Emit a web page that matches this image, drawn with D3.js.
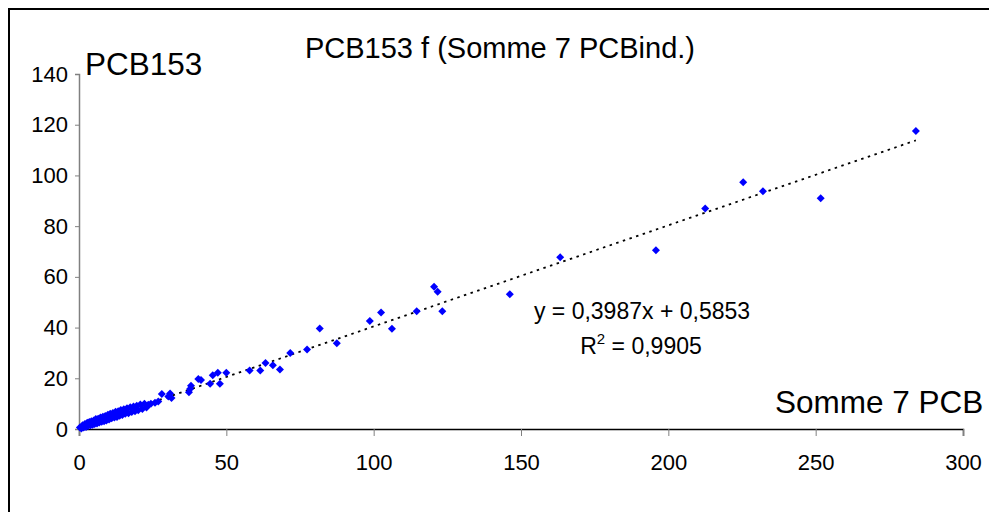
<!DOCTYPE html>
<html>
<head>
<meta charset="utf-8">
<script src="https://cdn.jsdelivr.net/npm/d3@7"></script>
<style>
  body { margin: 0; background: #fff; }
  svg { display: block; font-family: "Liberation Sans", Arial, sans-serif; }
</style>
</head>
<body>
<svg id="chart" width="989" height="512"></svg>
<script>
// Somme 7 PCB (x) vs PCB153 (y)
const sommePCB = [
  0.3, 0.8, 1.2, 1.6, 2.0, 2.4, 2.8, 3.1, 3.5, 3.9, 4.2, 4.6, 5.0, 5.3, 5.7, 6.1, 6.5, 6.9, 7.3, 7.7,
  8.1, 8.5, 8.9, 9.3, 9.8, 10.2, 10.6, 11.1, 11.5, 12.0, 12.4, 12.9, 13.3, 13.8, 14.2, 14.7, 15.2, 15.7,
  16.3, 16.8, 17.4, 17.9, 18.5, 19.0, 19.6, 20.1, 20.8, 21.5, 22.2, 22.9, 23.5,
  24.4, 25.8, 26.9, 28.1, 30.3, 30.9, 31.4, 37.3, 37.7, 38.0, 40.5, 41.4, 44.5, 45.4, 47.1, 47.8, 50.0,
  57.9, 61.5, 63.3, 65.8, 68.2, 71.7, 77.4, 81.7, 87.5, 98.7, 102.5, 106.2, 114.6, 120.5, 121.7, 123.3,
  146.2, 163.3, 195.8, 212.5, 225.4, 232.1, 251.7, 284.0
];
const pcb153 = [
  0.6, 0.2, 1.5, 0.6, 2.0, 0.8, 2.5, 1.2, 2.8, 1.5, 3.1, 1.7, 3.4, 2.0, 3.9, 2.2, 4.0, 2.6, 4.5, 2.9,
  4.8, 3.1, 5.1, 3.4, 5.6, 3.7, 6.0, 4.2, 6.3, 4.5, 6.8, 4.7, 7.0, 5.2, 7.5, 5.5, 7.8, 6.0,
  8.2, 6.2, 8.6, 6.7, 8.9, 7.0, 9.2, 7.4, 9.7, 7.9, 10.0, 8.5, 9.6,
  10.0, 10.4, 10.8, 13.8, 12.8, 14.0, 12.2, 14.5, 15.8, 17.1, 19.7, 19.3, 17.8, 21.2, 22.2, 17.8, 22.2,
  23.1, 23.1, 26.0, 25.1, 23.5, 30.0, 31.4, 39.6, 33.8, 42.6, 45.9, 39.5, 46.4, 56.1, 54.1, 46.4,
  53.1, 67.7, 70.5, 87.0, 97.3, 93.8, 91.0, 117.5
];

const xTicks = [0, 50, 100, 150, 200, 250, 300];
const yTicks = [0, 20, 40, 60, 80, 100, 120, 140];
const slope = 0.3987, intercept = 0.5853;

const svg = d3.select("#chart");
const x = d3.scaleLinear().domain([0, 300]).range([79, 963]);
const y = d3.scaleLinear().domain([0, 140]).range([429, 74]);

// outer frame (cut off at right and bottom like the picture)
svg.append("rect")
  .attr("x", 9).attr("y", 9).attr("width", 1100).attr("height", 600)
  .attr("fill", "none").attr("stroke", "#000").attr("stroke-width", 2);

// y axis
const yAxis = svg.append("g").attr("transform", "translate(79,0)")
  .call(d3.axisLeft(y).tickValues(yTicks).tickSize(4).tickPadding(7).tickFormat(d3.format("d")));
yAxis.select(".domain").attr("stroke", "#808080").attr("stroke-width", 1.5);
yAxis.selectAll(".tick line").attr("stroke", "#808080");
yAxis.selectAll("text").attr("font-size", 22).attr("font-family", "Liberation Sans, Arial, sans-serif").attr("fill", "#000");

// x axis
const xAxis = svg.append("g").attr("transform", "translate(0,429)")
  .call(d3.axisBottom(x).tickValues(xTicks).tickSize(7).tickPadding(18).tickFormat(d3.format("d")));
xAxis.select(".domain").attr("stroke", "#000").attr("stroke-width", 1.5);
xAxis.selectAll(".tick line").attr("stroke", "#808080");
xAxis.selectAll("text").attr("font-size", 22).attr("font-family", "Liberation Sans, Arial, sans-serif").attr("fill", "#000");

// linear trend line
const ext = d3.extent(sommePCB);
const trend = ext.map(v => [v, slope * v + intercept]);
svg.append("path")
  .datum(trend)
  .attr("d", d3.line().x(d => x(d[0])).y(d => y(d[1])))
  .attr("fill", "none").attr("stroke", "#000").attr("stroke-width", 1.8)
  .attr("stroke-dasharray", "2.5,4.5");

// points: blue diamonds
const diamond = d3.symbol().type(d3.symbolSquare).size(32);
svg.append("g").selectAll("path")
  .data(sommePCB.map((v, i) => [v, pcb153[i]]))
  .join("path")
  .attr("d", diamond)
  .attr("transform", d => `translate(${x(d[0])},${y(d[1])}) rotate(45)`)
  .attr("fill", "#0000ff");

// titles
svg.append("text").attr("x", 500).attr("y", 58).attr("text-anchor", "middle")
  .attr("font-size", 29).text("PCB153 f (Somme 7 PCBind.)");
svg.append("text").attr("x", 85).attr("y", 75).attr("font-size", 31.5).text("PCB153");
svg.append("text").attr("x", 775).attr("y", 413).attr("font-size", 31.5).text("Somme 7 PCB");

// equation
svg.append("text").attr("x", 642).attr("y", 319).attr("text-anchor", "middle")
  .attr("font-size", 23).text("y = 0,3987x + 0,5853");
const r2 = svg.append("text").attr("x", 641).attr("y", 354).attr("text-anchor", "middle")
  .attr("font-size", 23);
r2.append("tspan").text("R");
r2.append("tspan").attr("dy", -10).attr("font-size", 15).text("2");
r2.append("tspan").attr("dy", 10).text(" = 0,9905");
</script>
</body>
</html>
